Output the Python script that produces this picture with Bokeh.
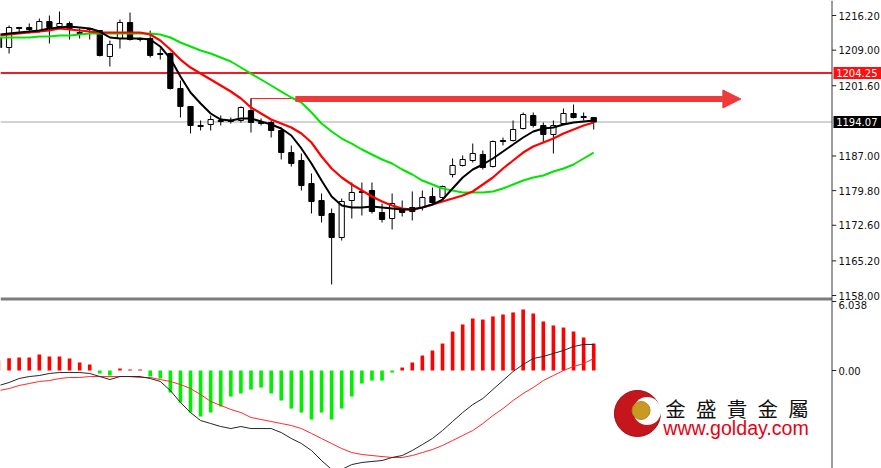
from bokeh.plotting import figure
from bokeh.models import Range1d, Arrow, NormalHead
from bokeh.embed import file_html
from bokeh.resources import INLINE
from bokeh.core.properties import value

# ---------------- data ----------------
opens = [1211.63, 1209.55, 1213.71, 1213.71, 1213.08, 1214.95, 1213.91, 1214.54, 1212.67, 1213.50,
         1213.08, 1207.68, 1211.42, 1214.75, 1211.42, 1211.42, 1208.30, 1208.30, 1201.03, 1197.29,
         1193.34, 1193.54, 1194.38, 1194.38, 1194.38, 1196.45, 1193.96, 1193.96, 1192.30, 1187.72,
         1186.06, 1181.28, 1177.75, 1175.04, 1170.06, 1177.75, 1179.62, 1179.82, 1175.25, 1174.00,
         1176.08, 1176.29, 1176.29, 1178.58, 1178.37, 1183.15, 1185.02, 1186.06, 1187.31, 1184.81,
         1190.22, 1190.22, 1192.71, 1195.41, 1193.34, 1191.47, 1193.75, 1195.83, 1195.21, 1195.00]
highs = [1212.04, 1214.12, 1213.71, 1214.54, 1215.58, 1216.20, 1217.03, 1214.95, 1213.50, 1213.50,
         1213.08, 1211.00, 1215.37, 1216.82, 1211.63, 1213.08, 1209.34, 1208.51, 1202.69, 1197.29,
         1194.38, 1195.41, 1195.41, 1195.00, 1197.29, 1198.95, 1194.79, 1194.38, 1192.92, 1189.18,
         1187.52, 1183.36, 1179.20, 1176.08, 1178.16, 1181.49, 1181.49, 1181.49, 1177.12, 1179.20,
         1177.75, 1179.62, 1179.82, 1180.45, 1180.86, 1186.48, 1187.10, 1189.59, 1188.14, 1190.22,
         1190.84, 1194.38, 1196.04, 1196.04, 1193.96, 1194.38, 1196.87, 1197.70, 1196.04, 1195.00]
lows = [1209.34, 1208.30, 1212.46, 1212.46, 1212.67, 1210.38, 1213.71, 1211.21, 1211.42, 1211.21,
        1207.68, 1205.60, 1209.34, 1211.00, 1210.80, 1207.47, 1207.05, 1200.82, 1195.00, 1191.67,
        1192.30, 1192.30, 1193.34, 1193.75, 1193.96, 1191.88, 1193.34, 1190.84, 1186.27, 1184.81,
        1179.82, 1175.04, 1173.17, 1160.29, 1169.43, 1174.00, 1174.63, 1175.04, 1173.17, 1171.72,
        1174.42, 1173.59, 1175.67, 1176.91, 1178.16, 1182.53, 1184.81, 1185.64, 1184.19, 1184.61,
        1189.18, 1190.01, 1192.50, 1192.92, 1189.80, 1187.52, 1193.75, 1194.79, 1194.38, 1192.50]
closes = [1209.55, 1213.71, 1213.50, 1213.29, 1214.95, 1213.71, 1214.54, 1213.50, 1212.46, 1213.29,
          1207.89, 1210.17, 1214.75, 1211.21, 1211.21, 1207.89, 1208.09, 1201.03, 1197.29, 1193.34,
          1193.13, 1194.58, 1194.17, 1194.17, 1197.08, 1193.96, 1193.75, 1192.30, 1187.72, 1185.44,
          1180.86, 1177.54, 1174.63, 1170.06, 1177.54, 1179.41, 1179.41, 1175.46, 1173.80, 1177.12,
          1175.25, 1175.46, 1178.37, 1177.33, 1180.66, 1185.02, 1186.27, 1187.52, 1184.61, 1190.01,
          1190.01, 1192.50, 1195.62, 1193.34, 1191.47, 1193.34, 1195.83, 1195.00, 1195.00, 1194.07]

ma_fast = [1212.25, 1212.46, 1212.67, 1212.87, 1213.08, 1213.50, 1213.71, 1213.91, 1213.71, 1213.50,
           1212.87, 1211.63, 1211.42, 1211.42, 1211.42, 1211.21, 1209.76, 1207.26, 1203.52, 1200.19,
           1197.91, 1195.83, 1194.58, 1194.38, 1194.79, 1194.79, 1194.17, 1193.54, 1192.71, 1191.26,
           1188.56, 1185.44, 1181.90, 1178.58, 1176.71, 1176.29, 1176.29, 1176.50, 1176.29, 1176.08,
           1175.87, 1175.87, 1176.29, 1176.91, 1177.95, 1180.24, 1182.53, 1184.19, 1185.23, 1186.48,
           1187.93, 1189.39, 1190.84, 1192.09, 1192.71, 1192.92, 1193.54, 1193.96, 1194.17, 1194.38]
ma_mid = [1212.04, 1212.25, 1212.46, 1212.67, 1212.87, 1213.08, 1213.50, 1213.29, 1213.08, 1212.87,
          1212.67, 1212.67, 1212.67, 1212.67, 1212.67, 1212.25, 1211.00, 1209.13, 1207.05, 1205.39,
          1204.14, 1202.90, 1201.65, 1200.40, 1198.95, 1197.08, 1195.83, 1194.58, 1193.75, 1192.92,
          1191.67, 1189.80, 1186.89, 1184.40, 1182.53, 1181.07, 1179.82, 1178.58, 1177.54, 1176.71,
          1176.08, 1175.87, 1176.29, 1176.91, 1177.54, 1178.16, 1178.79, 1179.62, 1181.07, 1182.53,
          1184.40, 1186.06, 1187.72, 1188.97, 1189.80, 1190.63, 1191.67, 1192.50, 1193.34, 1193.96]
ma_slow = [1211.63, 1211.63, 1211.63, 1211.63, 1211.84, 1211.84, 1212.04, 1212.04, 1212.25, 1212.46,
           1212.46, 1212.46, 1212.46, 1212.46, 1212.46, 1212.46, 1212.25, 1211.63, 1210.59, 1209.76,
           1208.93, 1208.30, 1207.47, 1206.64, 1205.39, 1204.14, 1202.90, 1201.65, 1200.40, 1199.16,
           1198.12, 1196.04, 1193.75, 1192.09, 1190.63, 1189.59, 1188.35, 1187.31, 1186.27, 1185.44,
           1184.19, 1183.15, 1181.90, 1181.07, 1180.24, 1179.82, 1179.41, 1179.41, 1179.41, 1179.62,
           1180.24, 1181.07, 1181.90, 1182.53, 1182.94, 1183.77, 1184.40, 1185.23, 1186.48, 1187.72]

macd_hist = [0.88, 1.08, 1.14, 1.14, 1.40, 1.23, 1.23, 1.05, 0.70, 0.53,
             -0.26, -0.44, 0.18, 0.09, 0.09, -0.53, -0.70, -1.93, -2.80, -3.68,
             -4.03, -3.68, -3.15, -2.28, -2.01, -1.66, -1.49, -2.01, -2.63, -3.33,
             -3.68, -4.29, -3.68, -4.29, -3.33, -2.28, -1.14, -0.88, -0.88, -0.18,
             0.26, 0.70, 1.31, 1.75, 2.36, 3.41, 4.03, 4.55, 4.46, 4.73,
             4.90, 5.08, 5.34, 4.99, 4.29, 3.94, 3.76, 3.41, 2.89, 2.36]
macd_line = [-1.31, -1.05, -0.70, -0.53, -0.44, -0.26, -0.18, -0.18, -0.18, -0.26,
             -0.53, -0.79, -0.53, -0.53, -0.53, -0.70, -0.96, -1.75, -2.80, -3.68,
             -4.38, -4.64, -4.90, -5.08, -4.90, -5.08, -5.08, -5.08, -5.43, -5.95,
             -6.39, -7.00, -7.88, -8.66, -8.66, -8.23, -8.05, -7.96, -7.88, -7.61,
             -7.44, -7.00, -6.48, -5.95, -5.25, -4.46, -3.68, -2.98, -2.45, -1.66,
             -0.88, -0.09, 0.53, 1.05, 1.23, 1.49, 1.75, 2.10, 2.28, 2.28]
signal_line = [-1.75, -1.58, -1.31, -1.14, -0.96, -0.88, -0.70, -0.61, -0.61, -0.53,
               -0.53, -0.53, -0.53, -0.53, -0.61, -0.61, -0.79, -0.96, -1.23, -1.58,
               -2.10, -2.71, -3.06, -3.41, -3.68, -4.11, -4.29, -4.46, -4.64, -4.81,
               -5.08, -5.51, -5.95, -6.39, -6.83, -7.18, -7.35, -7.44, -7.53, -7.61,
               -7.61, -7.44, -7.18, -6.91, -6.56, -6.13, -5.69, -5.25, -4.64, -3.94,
               -3.33, -2.63, -2.01, -1.49, -0.88, -0.44, 0.00, 0.35, 0.61, 1.05]

price_ticks = [1158.00, 1165.20, 1172.60, 1179.80, 1187.00, 1201.60, 1209.00, 1216.20]
price_tick_labels = ["1158.00", "1165.20", "1172.60", "1179.80", "1187.00", "1201.60", "1209.00", "1216.20"]
resistance_level = 1204.25
last_price = 1194.07
macd_ticks = [6.038, 0.0]
macd_tick_labels = ["6.038", "0.00"]

trend_start_bar = 25          # thin red line drawn from this bar's high
arrow_start_bar = 29.4
arrow_end_bar = 73.6
arrow_price = 1198.85

brand_name = "金\u2002盛\u2002貴\u2002金\u2002屬"
brand_url = "www.golday.com"

# ---------------- scales / layout constants ----------------
W, H = 881, 468
X_START, X_END = 0.149, 87.55          # bar-index range across the whole picture
PRICE_LO, PRICE_HI = 1122.04, 1219.32  # price scale (upper pane)
MACD_LO, MACD_HI = -8.575, 32.375      # MACD scale (lower pane)
AXIS_X = 82.64                         # position of the price / MACD axis (bar units)
TICK_END = 83.06
LABEL_X = 83.28
PANE_SPLIT_TOP, PANE_SPLIT_BOT = 1157.58, 1156.96
AXIS_FONT = value("DejaVu Sans")
AXIS_SIZE = "10px"

idx = list(range(len(opens)))
tops = [max(o, c) for o, c in zip(opens, closes)]
bottoms = [min(o, c) for o, c in zip(opens, closes)]
body_fill = ["white" if c > o else "black" for o, c in zip(opens, closes)]
hist_colors = ["#ff0000" if v >= 0 else "#00ee00" for v in macd_hist]

p = figure(width=W, height=H, x_range=Range1d(X_START, X_END),
           y_range=Range1d(PRICE_LO, PRICE_HI), output_backend="svg",
           toolbar_location=None, x_axis_location=None, y_axis_location=None,
           min_border=0, min_border_left=0, min_border_right=0,
           min_border_top=0, min_border_bottom=0)
p.extra_y_ranges = {"macd": Range1d(MACD_LO, MACD_HI)}
p.grid.visible = False
p.outline_line_color = None
p.background_fill_color = "white"
p.border_fill_color = "white"

# ---- upper pane: levels ----
p.segment(x0=[X_START], y0=[last_price], x1=[AXIS_X], y1=[last_price],
          line_color="#c4c4c4", line_width=1.5)
p.segment(x0=[X_START], y0=[resistance_level], x1=[AXIS_X], y1=[resistance_level],
          line_color="#ee1c25", line_width=2)

# thin trend line + thick arrow
p.segment(x0=[trend_start_bar], y0=[highs[trend_start_bar]], x1=[arrow_start_bar],
          y1=[highs[trend_start_bar]], line_color="#ff2020", line_width=1)
p.segment(x0=[trend_start_bar], y0=[highs[trend_start_bar]], x1=[trend_start_bar],
          y1=[highs[trend_start_bar] - 1.6], line_color="#ff2020", line_width=1)
p.add_layout(Arrow(end=NormalHead(size=18, fill_color="#ee3a3a", line_color="#ee3a3a"),
                   x_start=arrow_start_bar, y_start=arrow_price,
                   x_end=arrow_end_bar, y_end=arrow_price,
                   line_color="#ee3a3a", line_width=6))

# candles
p.segment(x0=idx, y0=highs, x1=idx, y1=lows, line_color="black", line_width=1)
p.vbar(x=idx, top=tops, bottom=bottoms, width=0.52, fill_color=body_fill,
       line_color="black", line_width=1)

# moving averages
p.line(idx, ma_slow, line_color="#00e600", line_width=2)
p.line(idx, ma_mid, line_color="#ff0000", line_width=2.2)
p.line(idx, ma_fast, line_color="#000000", line_width=2)

# pane separator
p.quad(left=[X_START], right=[AXIS_X], top=[PANE_SPLIT_TOP], bottom=[PANE_SPLIT_BOT],
       fill_color="#7d7d7d", line_color=None)

# ---- lower pane: MACD ----
p.vbar(x=idx, top=macd_hist, bottom=0, width=0.36, fill_color=hist_colors,
       line_color=None, y_range_name="macd")
p.line(idx, signal_line, line_color="#ff2a2a", line_width=1, y_range_name="macd")
p.line(idx, macd_line, line_color="#262626", line_width=1, y_range_name="macd")

# ---- right-hand scale ----
p.segment(x0=[AXIS_X], y0=[PRICE_LO], x1=[AXIS_X], y1=[PRICE_HI],
          line_color="#3a3a3a", line_width=1)
p.segment(x0=[AXIS_X] * len(price_ticks), y0=price_ticks,
          x1=[TICK_END] * len(price_ticks), y1=price_ticks,
          line_color="#222222", line_width=1)
p.text(x=[LABEL_X] * len(price_ticks), y=price_ticks, text=price_tick_labels,
       text_font=AXIS_FONT, text_font_size=AXIS_SIZE, text_color="#111111",
       text_baseline="middle", text_align="left")
p.segment(x0=[AXIS_X] * len(macd_ticks), y0=macd_ticks,
          x1=[TICK_END] * len(macd_ticks), y1=macd_ticks,
          line_color="#222222", line_width=1, y_range_name="macd")
p.text(x=[LABEL_X] * len(macd_ticks), y=macd_ticks, text=macd_tick_labels,
       text_font=AXIS_FONT, text_font_size=AXIS_SIZE, text_color="#111111",
       text_baseline=["top", "middle"], text_align="left", y_range_name="macd")

# price boxes
box_half = 1.25
p.quad(left=[82.79, 82.79], right=[X_END, X_END],
       top=[resistance_level + box_half, last_price + box_half],
       bottom=[resistance_level - box_half, last_price - box_half],
       fill_color=["#ff1010", "#000000"], line_color=None)
p.text(x=[83.05, 83.05], y=[resistance_level, last_price],
       text=[f"{resistance_level:.2f}", f"{last_price:.2f}"],
       text_font=AXIS_FONT, text_font_size=AXIS_SIZE, text_color="white",
       text_baseline="middle", text_align="left")

# ---- logo ----
p.scatter(x=[63.34], y=[-3.76], size=46, marker="circle", fill_color="#c4161c",
          line_color="#9e0b10", y_range_name="macd")
p.scatter(x=[64.3], y=[-3.55], size=28, marker="circle", fill_color="white",
          line_color=None, y_range_name="macd")
p.scatter(x=[63.7], y=[-3.5], size=18, marker="circle", fill_color="#c99a22",
          line_color="#b3861a", y_range_name="macd")
p.text(x=[66.1], y=[-3.24], text=[brand_name], text_font=value("Noto Sans CJK TC"),
       text_font_size="20.5px", text_color="#111111", text_baseline="middle",
       y_range_name="macd")
p.text(x=[65.9], y=[-4.99], text=[brand_url], text_font=value("Liberation Sans"),
       text_font_size="19.6px", text_color="#e60012", text_baseline="middle",
       y_range_name="macd")

open("out.html", "w").write(file_html(p, INLINE))
